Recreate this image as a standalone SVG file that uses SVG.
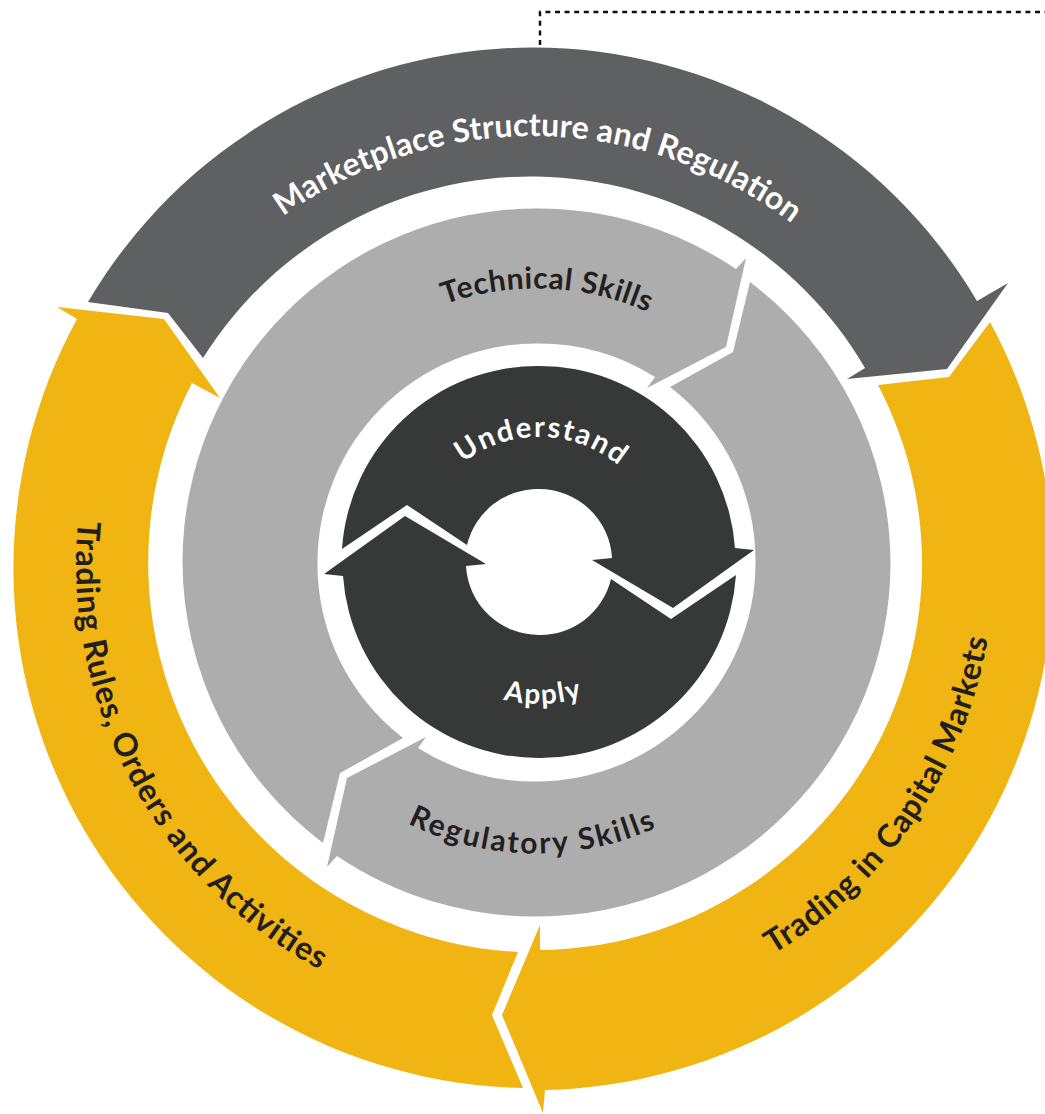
<svg xmlns="http://www.w3.org/2000/svg" xmlns:xlink="http://www.w3.org/1999/xlink" width="1045" height="1114" viewBox="0 0 1045 1114">
  <style>
    .outer-gray { fill: #5F6062; }
    .yellow { fill: #F0B413; }
    .mid-gray { fill: #ACADAC; }
    .dark { fill: #373938; }
    .lbl { font-family: Lato, "Open Sans", "Liberation Sans", sans-serif; font-weight: 700; }
    .w { fill: #FFFFFF; }
    .d { fill: #231F20; }
    .leader { fill: none; stroke: #111111; stroke-width: 2.5; stroke-dasharray: 5 4.6; }
  </style>
  <defs>
    <path id="tp-market" d="M 104.5 564 A 428 428 0 0 1 960.5 564"/>
    <path id="tp-technical" d="M 262.5 562.5 A 274 274 0 0 1 810.5 562.5"/>
    <path id="tp-understand" d="M 414 562 A 125 125 0 0 1 664 562"/>
    <path id="tp-apply" d="M 397 562 A 142 142 0 0 0 681 562"/>
    <path id="tp-regulatory" d="M 245.5 562.5 A 291 291 0 0 0 827.5 562.5"/>
    <path id="tp-rules" d="M 76 563 A 461 461 0 0 0 998 563"/>
    <path id="tp-capital" d="M 80 563 A 457 457 0 0 0 994 563"/>
    <path id="mid-arrow" d="M 323 843 A 354 354 0 0 1 182.5 562.5 A 354 354 0 0 1 536.5 208.5 A 354 354 0 0 1 736 269 L 746 258 L 726 347 L 647 388 L 655 377 A 219 219 0 0 0 536.5 343.5 A 219 219 0 0 0 317.5 562.5 A 219 219 0 0 0 403 738 L 340 773 Z"/>
    <path id="inner-arrow" d="M 342 549 A 196 196 0 0 1 539 366 A 196 196 0 0 1 735 548 L 754 550 L 673 608 L 592 560 L 612 558 A 73 73 0 0 0 539 489 A 73 73 0 0 0 467 545 L 407 505 Z"/>
  </defs>

  <rect x="0" y="0" width="1045" height="1114" fill="#FFFFFF"/>

  <g id="connectors">
    <path class="leader" d="M 540 45 V 12 H 1045"/>
  </g>

  <g id="node-marketplace">
    <path class="outer-gray" d="M 88 302 A 516 516 0 0 1 977 301 L 1008 283 L 947 369 L 847 379 L 865 368 A 387 387 0 0 0 203 358 L 168 313 Z"/>
    <text class="lbl w" font-size="32" transform="rotate(0.8 532.5 564)"><textPath href="#tp-market" xlink:href="#tp-market" startOffset="50%" text-anchor="middle" textLength="545" lengthAdjust="spacing">Marketplace Structure and Regulation</textPath></text>
  </g>

  <g id="node-trading-capital">
    <path class="yellow" d="M 990 322 A 520 520 0 0 1 545 1090 L 543 1113 L 502 1015 L 540 925 L 540 950 A 386 386 0 0 0 878 385 L 949 377 Z"/>
    <text class="lbl d" font-size="32" transform="rotate(-55.8 537 563)"><textPath href="#tp-capital" xlink:href="#tp-capital" startOffset="50%" text-anchor="middle" textLength="394" lengthAdjust="spacing">Trading in Capital Markets</textPath></text>
  </g>

  <g id="node-trading-rules">
    <path class="yellow" d="M 523 1088 A 520 520 0 0 1 77 319 L 57 307 L 164 319 L 220 398 L 192 383 A 390 390 0 0 0 518 952 L 492 1015 Z"/>
    <text class="lbl d" font-size="32" transform="rotate(61.7 537 563)"><textPath href="#tp-rules" xlink:href="#tp-rules" startOffset="50%" text-anchor="middle" textLength="540" lengthAdjust="spacing">Trading Rules, Orders and Activities</textPath></text>
  </g>

  <g id="node-technical">
    <use href="#mid-arrow" xlink:href="#mid-arrow" class="mid-gray"/>
    <text class="lbl d" font-size="30" transform="rotate(2.2 536.5 562.5)"><textPath href="#tp-technical" xlink:href="#tp-technical" startOffset="50%" text-anchor="middle" textLength="208" lengthAdjust="spacing">Technical Skills</textPath></text>
  </g>

  <g id="node-regulatory">
    <use href="#mid-arrow" xlink:href="#mid-arrow" class="mid-gray" transform="rotate(180 536.5 562.5)"/>
    <text class="lbl d" font-size="30" transform="rotate(1 536.5 562.5)"><textPath href="#tp-regulatory" xlink:href="#tp-regulatory" startOffset="50%" text-anchor="middle" textLength="257" lengthAdjust="spacing">Regulatory Skills</textPath></text>
  </g>

  <g id="node-understand">
    <use href="#inner-arrow" xlink:href="#inner-arrow" class="dark"/>
    <text class="lbl w" font-size="29" transform="rotate(1 539 562)"><textPath href="#tp-understand" xlink:href="#tp-understand" startOffset="50%" text-anchor="middle" textLength="168" lengthAdjust="spacing">Understand</textPath></text>
  </g>

  <g id="node-apply">
    <use href="#inner-arrow" xlink:href="#inner-arrow" class="dark" transform="rotate(180 539 562)"/>
    <text class="lbl w" font-size="28" transform="rotate(-1.5 539 562)"><textPath href="#tp-apply" xlink:href="#tp-apply" startOffset="50%" text-anchor="middle" textLength="80" lengthAdjust="spacing">Apply</textPath></text>
  </g>
</svg>
